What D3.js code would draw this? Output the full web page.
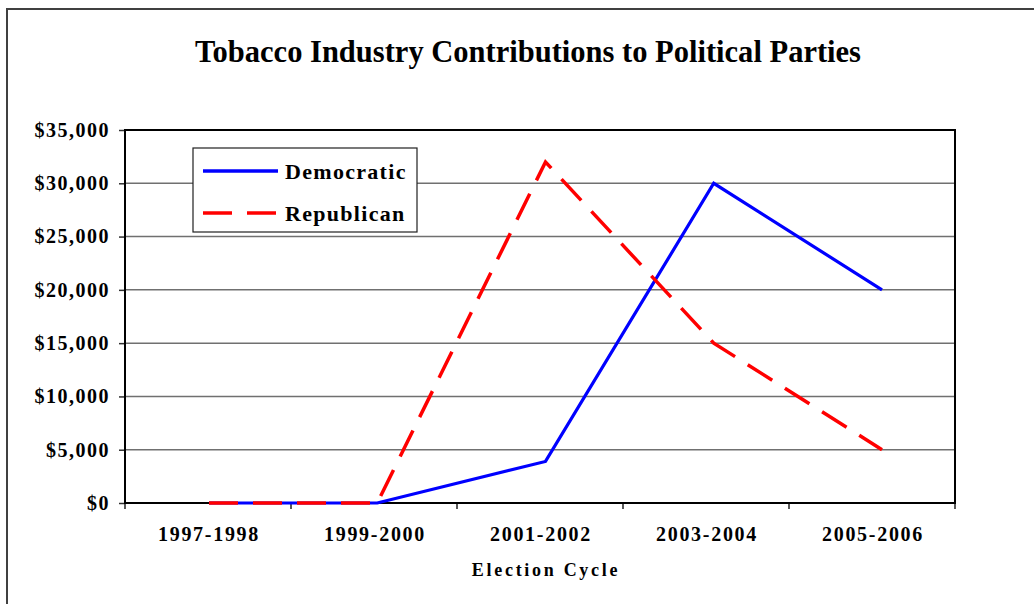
<!DOCTYPE html>
<html>
<head>
<meta charset="utf-8">
<script src="https://cdn.jsdelivr.net/npm/d3@7"></script>
<style>
  html, body { margin: 0; padding: 0; background: #fff; }
  svg { display: block; }
  text { font-family: "Liberation Serif", "Times New Roman", serif; font-weight: bold; fill: #000; }
</style>
</head>
<body>
<script>
// Election cycles on the x axis
const cycles = ["1997-1998", "1999-2000", "2001-2002", "2003-2004", "2005-2006"];
// Contributions in dollars per party
const democratic = [0, 0, 3900, 30000, 20000];
const republican = [0, 0, 32000, 15000, 5000];
// Y axis tick values
const yTicks = [0, 5000, 10000, 15000, 20000, 25000, 30000, 35000];
const seriesNames = ["Democratic", "Republican"];

const W = 1034, H = 604;
const plot = { left: 125, right: 955, top: 130, bottom: 503 };

const svg = d3.select("body").append("svg").attr("width", W).attr("height", H);

// Outer chart frame
svg.append("rect")
  .attr("x", 7).attr("y", 9).attr("width", W + 10).attr("height", H + 10)
  .attr("fill", "#fff").attr("stroke", "#404040").attr("stroke-width", 2);

// Title
svg.append("text")
  .attr("x", 528).attr("y", 62)
  .attr("text-anchor", "middle")
  .attr("font-size", 31)
  .attr("textLength", 666).attr("lengthAdjust", "spacingAndGlyphs")
  .text("Tobacco Industry Contributions to Political Parties");

const y = d3.scaleLinear().domain([0, 35000]).range([plot.bottom, plot.top]);
const xBand = d3.scaleBand().domain(cycles).range([plot.left, plot.right]).padding(0);
const xPt = d3.scalePoint().domain(cycles).range([209, 882]);

// Horizontal gridlines
svg.append("g").selectAll("line").data(yTicks.filter(t => t > 0 && t < 35000)).join("line")
  .attr("x1", plot.left).attr("x2", plot.right)
  .attr("y1", d => y(d)).attr("y2", d => y(d))
  .attr("stroke", "#707070").attr("stroke-width", 1.5);

// Y axis
const fmt = d => "$" + d3.format(",")(d);
const yAxis = svg.append("g")
  .attr("transform", `translate(${plot.left},0)`)
  .call(d3.axisLeft(y).tickValues(yTicks).tickFormat(fmt).tickSize(6).tickPadding(9));
yAxis.select(".domain").remove();
yAxis.selectAll(".tick line").attr("stroke", "#303030").attr("stroke-width", 1.5);
yAxis.selectAll(".tick text")
  .attr("font-size", 20).attr("font-family", "Liberation Serif").attr("font-weight", "bold")
  .attr("letter-spacing", 1.5)
  .attr("fill", "#000");

// X axis: ticks at category boundaries, labels at centers
const xAxis = svg.append("g")
  .attr("transform", `translate(0,${plot.bottom})`);
xAxis.selectAll("line.tk").data(cycles.map(c => xBand(c)).concat([plot.right])).join("line")
  .attr("class", "tk")
  .attr("x1", d => d).attr("x2", d => d)
  .attr("y1", 0).attr("y2", 6)
  .attr("stroke", "#202020").attr("stroke-width", 1.5);
xAxis.selectAll("text").data(cycles).join("text")
  .attr("x", d => xBand(d) + xBand.bandwidth() / 2 + 1)
  .attr("y", 38)
  .attr("text-anchor", "middle")
  .attr("font-size", 20)
  .attr("letter-spacing", 1.7)
  .text(d => d);

// Axis title
svg.append("text")
  .attr("x", 546).attr("y", 576)
  .attr("text-anchor", "middle")
  .attr("font-size", 18)
  .attr("letter-spacing", 2.7)
  .text("Election Cycle");

// Plot frame (left, top, right, bottom lines)
svg.append("rect")
  .attr("x", plot.left).attr("y", plot.top)
  .attr("width", plot.right - plot.left).attr("height", plot.bottom - plot.top)
  .attr("fill", "none").attr("stroke", "#000").attr("stroke-width", 2);

// Series lines
const line = d3.line().x((d, i) => xPt(cycles[i])).y(d => y(d));
svg.append("path").datum(democratic)
  .attr("d", line).attr("fill", "none")
  .attr("stroke", "#0000FF").attr("stroke-width", 3.2).attr("stroke-linejoin", "miter");
svg.append("path").datum(republican)
  .attr("d", line).attr("fill", "none")
  .attr("stroke", "#FF0000").attr("stroke-width", 3.5)
  .attr("stroke-dasharray", "29,15");

// Legend
const lg = svg.append("g");
lg.append("rect")
  .attr("x", 193).attr("y", 148).attr("width", 224).attr("height", 84)
  .attr("fill", "#fff").attr("stroke", "#202020").attr("stroke-width", 1.2);
const legendColors = ["#0000FF", "#FF0000"];
const legendDash = [null, "29,15"];
seriesNames.forEach((name, i) => {
  const ly = 171 + i * 42;
  lg.append("line")
    .attr("x1", 203).attr("x2", 278).attr("y1", ly).attr("y2", ly)
    .attr("stroke", legendColors[i]).attr("stroke-width", 3.5)
    .attr("stroke-dasharray", legendDash[i]);
  lg.append("text")
    .attr("x", 285).attr("y", ly + 8)
    .attr("font-size", 22)
    .attr("letter-spacing", 1.3)
    .text(name);
});
</script>
</body>
</html>
